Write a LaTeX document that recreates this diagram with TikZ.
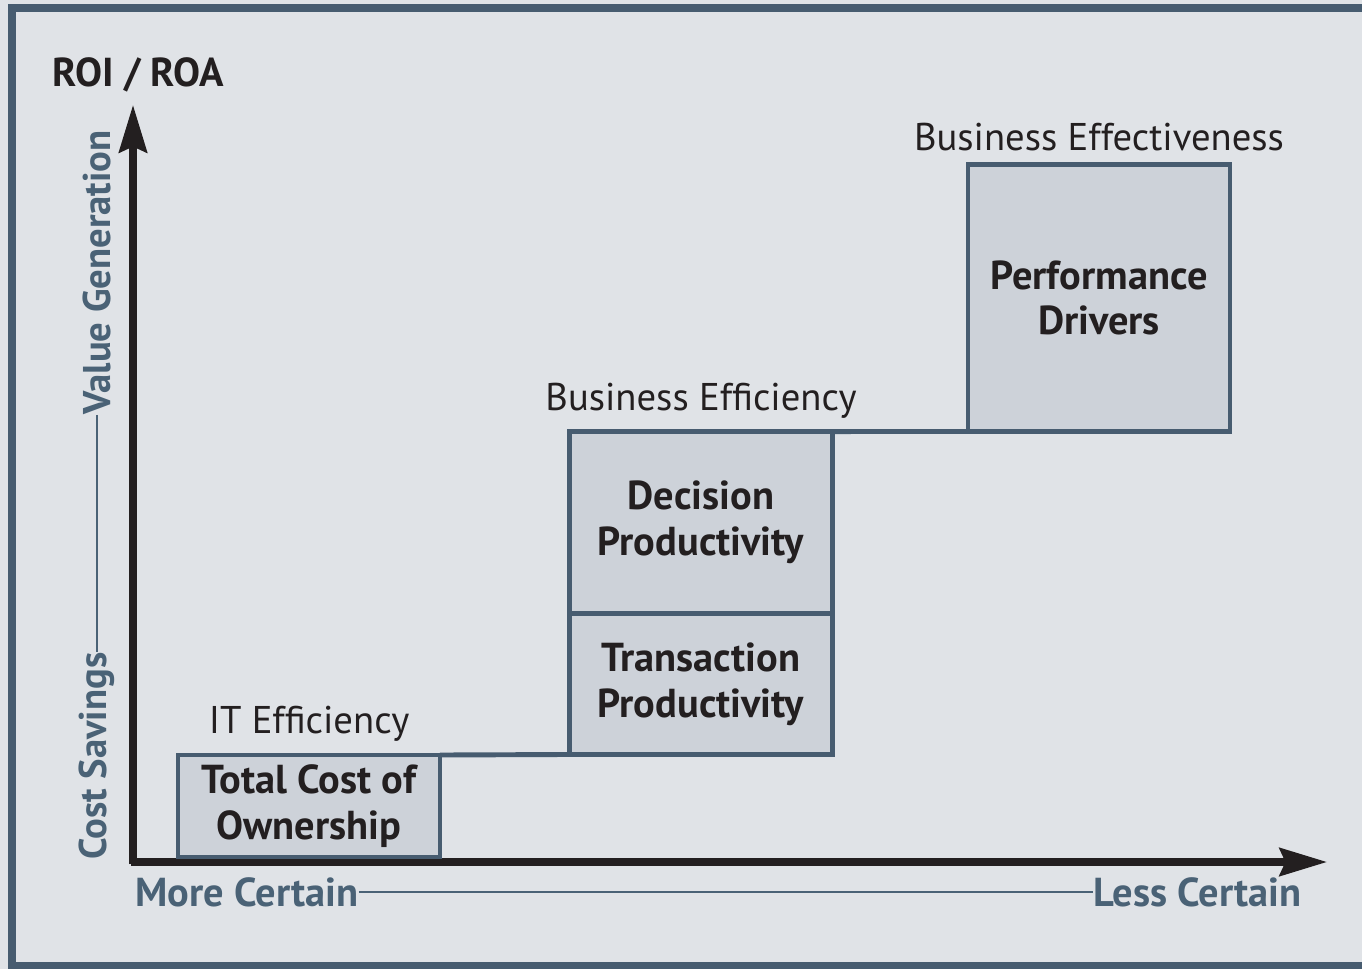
\documentclass[tikz,border=0pt]{standalone}
\usepackage{fontspec}
\setmainfont{PT Sans}
\usetikzlibrary{arrows.meta,positioning,calc}
\definecolor{slate}{HTML}{475C70}
\definecolor{slatetext}{HTML}{4A6276}
\definecolor{boxgray}{HTML}{CDD2D9}
\definecolor{bggray}{HTML}{E0E3E7}
\definecolor{ink}{HTML}{231F20}
\tikzset{
  stage/.style={draw=slate, line width=2.8pt, fill=boxgray, align=center, text=ink,
    inner sep=0pt, outer sep=0pt, font=\bfseries\fontsize{23}{26}\selectfont},
  level/.style={text=ink, font=\fontsize{22}{26}\selectfont},
  axislabel/.style={text=slatetext, font=\bfseries\fontsize{23}{26}\selectfont, inner sep=0pt},
  axis/.style={draw=ink, line width=4pt, -{Stealth[length=0.95cm, width=0.56cm, inset=0.12cm]}},
}
\begin{document}
\begin{tikzpicture}[x=0.02cm, y=-0.02cm]
	% page and frame
	\useasboundingbox (0,0) rectangle (1362,969);
	\fill[bggray] (0,0) rectangle (1362,969);
	\draw[slate, line width=5pt] (1400,8) -- (12,8) -- (12,966) -- (1400,966);
	% axes
	\coordinate (origin) at (131,862);
	\coordinate (ytip) at (133,105);
	\coordinate (xtip) at (1327,862);
	\draw[axis] ($(origin)+(2,2)$) -- (ytip);
	\draw[axis] (origin) -- (xtip);
	\node[anchor=west, text=ink, font=\bfseries\fontsize{23}{26}\selectfont] (roi) at (46,75) {ROI / ROA};
	% axis captions
	\node[axislabel, rotate=90, anchor=east, font=\bfseries\fontsize{22}{26}\selectfont] (valgen) at (97,130) {Value Generation};
	\node[axislabel, rotate=90, anchor=west, font=\bfseries\fontsize{22}{26}\selectfont] (costsav) at (97,860) {Cost Savings};
	\draw[slatetext, line width=1.2pt] (valgen.west) -- (costsav.east);
	\node[axislabel, anchor=west] (morecert) at (135,892) {More Certain};
	\node[axislabel, anchor=east] (lesscert) at (1302,892) {Less Certain};
	\draw[slatetext, line width=1.2pt] (morecert.east) -- (lesscert.west);
	% stages
	\node[stage, minimum width=5.24cm, minimum height=2.04cm] (tco) at (309,806) {Total Cost of\\Ownership};
	\node[stage, minimum width=5.26cm, minimum height=2.82cm] (trans) at (701,684) {Transaction\\Productivity};
	\node[stage, minimum width=5.26cm, minimum height=3.64cm, above=0pt of trans] (dec) {Decision\\Productivity};
	\node[stage, minimum width=5.24cm, minimum height=5.34cm] (perf) at (1099,298) {Performance\\Drivers};
	% steps
	\draw[slate, line width=2.8pt] (tco.north east) -- (trans.south west);
	\draw[slate, line width=2.8pt] (dec.north east) -- (perf.south west);
	% levels
	\node[level, above=4pt of tco] (itlevel) {IT Efficiency};
	\node[level, above=4pt of dec] (beflevel) {Business Efficiency};
	\node[level, above=4pt of perf] (beflevel2) {Business Effectiveness};
\end{tikzpicture}
\end{document}
